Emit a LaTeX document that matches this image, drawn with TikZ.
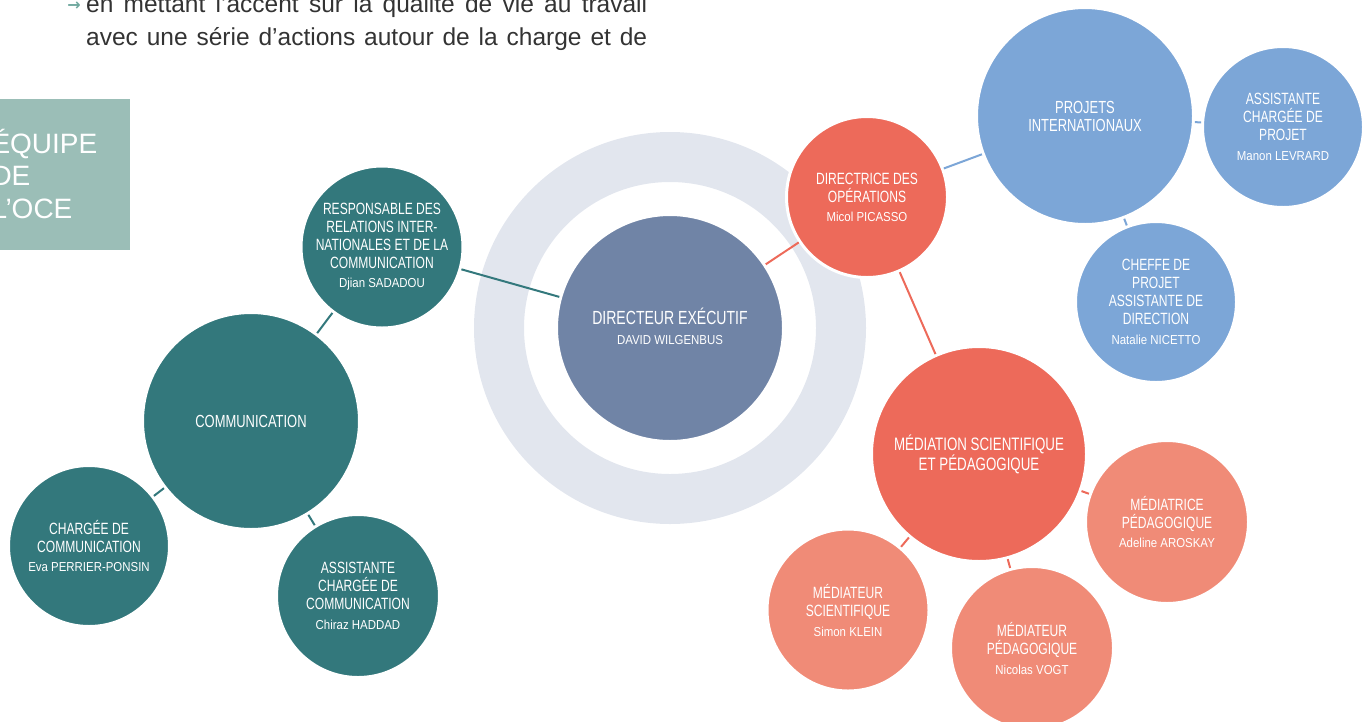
\documentclass[tikz,border=0pt]{standalone}
\usepackage{fontspec}
\setmainfont{Liberation Sans}
\newfontfamily\ttlfont{Liberation Sans}[FakeStretch=0.74]
\newfontfamily\nmfont{Liberation Sans}[FakeStretch=0.88]
\newfontfamily\arrowfont{DejaVu Sans}

\definecolor{ocTeal}{HTML}{33787C}
\definecolor{ocArrow}{HTML}{6FA89E}
\definecolor{ocBox}{HTML}{9BBEB7}
\definecolor{ocDir}{HTML}{7084A6}
\definecolor{ocRing}{HTML}{E2E6EE}
\definecolor{ocRed}{HTML}{ED6A5A}
\definecolor{ocSalmon}{HTML}{F08B77}
\definecolor{ocBlue}{HTML}{7CA6D7}
\definecolor{ocInk}{HTML}{333333}

% name line inside a bubble
\newcommand\who[1]{{\nmfont\fontsize{13}{18}\selectfont #1}}

\tikzset{
  bub/.style={circle, draw=white, line width=3pt, inner sep=0pt, minimum size=#1},
  lbl/.style={text=white, align=center, inner sep=0pt,
              font=\ttlfont\fontsize{16.3}{18}\selectfont},
  lblbig/.style={lbl, font=\ttlfont\fontsize{17.5}{18}\selectfont},
  lbldir/.style={lbl, font=\ttlfont\fontsize{19}{20}\selectfont},
  link/.style={line width=2pt},
  bodyline/.style={anchor=base west, inner sep=0pt, text=ocInk,
                   font=\fontsize{24.5}{30}\selectfont},
  boxtitle/.style={anchor=base west, inner sep=0pt, text=white,
                   font=\fontsize{28}{32}\selectfont},
}

\begin{document}
\begin{tikzpicture}[x=1pt,y=-1pt]
\useasboundingbox (0,0) rectangle (1370,721);

% running text above the chart
\node[text=ocArrow, inner sep=0pt, font=\arrowfont\bfseries\fontsize{16}{18}\selectfont] (arr) at (74,6) {→};
\node[bodyline] (l1) at (86,12.7) {\makebox[561pt][s]{en mettant l’accent sur la qualité de vie au travail}};
\node[bodyline] (l2) at (86,45) {\makebox[561pt][s]{avec une série d’actions autour de la charge et de}};

% title box
\node[fill=ocBox, anchor=north west, inner sep=0pt, minimum width=130pt, minimum height=151pt] (box) at (0,99) {};
\node[boxtitle] (t1) at (-8.7,153) {ÉQUIPE};
\node[boxtitle] (t2) at (-8.7,185.5) {DE};
\node[boxtitle] (t3) at (-8.7,218) {L’OCE};

% ring around the director
\fill[ocRing, even odd rule] (670,328) circle[radius=196pt] (670,328) circle[radius=146pt];

% bubbles
\node[bub=227pt, fill=ocDir]    (dir)  at (670,328)  {};
\node[bub=161pt, fill=ocRed]    (ops)  at (867,197)  {};
\node[bub=217pt, fill=ocBlue]   (proj) at (1085,116) {};
\node[bub=161pt, fill=ocBlue]   (asp)  at (1283,127) {};
\node[bub=161pt, fill=ocBlue]   (chef) at (1156,302) {};
\node[bub=215pt, fill=ocRed]    (med)  at (979,454)  {};
\node[bub=163pt, fill=ocSalmon] (medp) at (1167,522) {};
\node[bub=162pt, fill=ocSalmon] (msci) at (848,610)  {};
\node[bub=163pt, fill=ocSalmon] (mped) at (1032,648) {};
\node[bub=162pt, fill=ocTeal]   (resp) at (382,247)  {};
\node[bub=217pt, fill=ocTeal]   (comm) at (251,421)  {};
\node[bub=161pt, fill=ocTeal]   (chg)  at (89,546)   {};
\node[bub=163pt, fill=ocTeal]   (asc)  at (358,596)  {};

% connectors
\draw[link, ocTeal] (resp) -- (dir);
\draw[link, ocTeal] (resp) -- (comm);
\draw[link, ocTeal] (comm) -- (chg);
\draw[link, ocTeal] (comm) -- (asc);
\draw[link, ocRed]  (dir)  -- (ops);
\draw[link, ocBlue] (ops)  -- (proj);
\draw[link, ocRed]  (ops)  -- (med);
\draw[link, ocBlue] (proj) -- (asp);
\draw[link, ocBlue] (proj) -- (chef);
\draw[link, ocRed]  (med)  -- (medp);
\draw[link, ocRed]  (med)  -- (msci);
\draw[link, ocRed]  (med)  -- (mped);

% labels
\node[lbldir] (dir-t)  at ([yshift=2pt]dir.center) {DIRECTEUR EXÉCUTIF\\\who{DAVID WILGENBUS}};
\node[lbl]    (ops-t)  at (ops)  {DIRECTRICE DES\\OPÉRATIONS\\[1pt]\who{Micol PICASSO}};
\node[lblbig] (proj-t) at (proj) {PROJETS\\INTERNATIONAUX};
\node[lbl]    (asp-t)  at (asp)  {ASSISTANTE\\CHARGÉE DE\\PROJET\\[2pt]\who{Manon LEVRARD}};
\node[lbl]    (chef-t) at (chef) {CHEFFE DE\\PROJET\\ASSISTANTE DE\\DIRECTION\\[2pt]\who{Natalie NICETTO}};
\node[lbl, font=\ttlfont\fontsize{18}{18}\selectfont] (med-t) at (med) {MÉDIATION SCIENTIFIQUE\\ET PÉDAGOGIQUE};
\node[lbl]    (medp-t) at (medp) {MÉDIATRICE\\PÉDAGOGIQUE\\[1pt]\who{Adeline AROSKAY}};
\node[lbl]    (msci-t) at (msci) {MÉDIATEUR\\SCIENTIFIQUE\\[2pt]\who{Simon KLEIN}};
\node[lbl]    (mped-t) at (mped) {MÉDIATEUR\\PÉDAGOGIQUE\\[2pt]\who{Nicolas VOGT}};
\node[lbl]    (resp-t) at (resp) {RESPONSABLE DES\\RELATIONS INTER-\\NATIONALES ET DE LA\\COMMUNICATION\\[1pt]\who{Djian SADADOU}};
\node[lblbig] (comm-t) at (comm) {COMMUNICATION};
\node[lbl]    (chg-t)  at (chg)  {CHARGÉE DE\\COMMUNICATION\\[1pt]\who{Eva PERRIER-PONSIN}};
\node[lbl]    (asc-t)  at (asc)  {ASSISTANTE\\CHARGÉE DE\\COMMUNICATION\\[2pt]\who{Chiraz HADDAD}};
\end{tikzpicture}
\end{document}
